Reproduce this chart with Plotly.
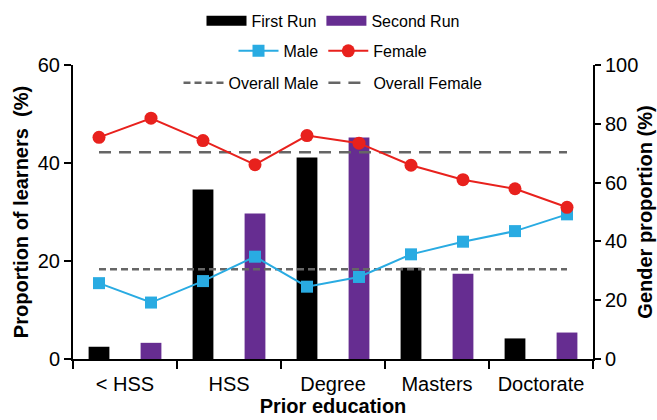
import plotly.graph_objects as go

categories = ["< HSS", "HSS", "Degree", "Masters", "Doctorate"]
first_run = [2.5, 34.6, 41.1, 18.6, 4.2]
second_run = [3.3, 29.7, 45.2, 17.4, 5.4]
male = [25.8, 19.2, 26.5, 34.8, 24.6, 27.9, 35.6, 39.9, 43.5, 49.2]
female = [75.4, 81.9, 74.3, 66.1, 76.0, 73.4, 65.9, 61.0, 57.9, 51.6]
overall_male = 30.5
overall_female = 70.3

n = len(categories)
cat_pos = list(range(n))
first_x = [i - 0.25 for i in cat_pos]
second_x = [i + 0.25 for i in cat_pos]
line_x = []
for i in cat_pos:
    line_x += [i - 0.25, i + 0.25]
span = [line_x[0], line_x[-1]]

FONT = "Liberation Sans, Arial, Helvetica, sans-serif"
BLACK = "#000000"
PURPLE = "#662d91"
BLUE = "#29abe2"
RED = "#e8211d"
GRAY = "#666666"

fig = go.Figure()
# bars (legend shown via wide line swatches below)
fig.add_trace(go.Bar(x=first_x, y=first_run, width=0.2, name="First Run", showlegend=False,
                     marker=dict(color=BLACK, line=dict(width=0))))
fig.add_trace(go.Bar(x=second_x, y=second_run, width=0.2, name="Second Run", showlegend=False,
                     marker=dict(color=PURPLE, line=dict(width=0))))
fig.add_trace(go.Scatter(x=[None], y=[None], mode="lines", name="First Run",
                         line=dict(color=BLACK, width=10), legend="legend"))
fig.add_trace(go.Scatter(x=[None], y=[None], mode="lines", name="Second Run",
                         line=dict(color=PURPLE, width=10), legend="legend"))
fig.add_trace(go.Scatter(x=span, y=[overall_male] * 2, mode="lines", name="Overall Male",
                         line=dict(color=GRAY, width=2.5, dash="7px,4px"), yaxis="y2", legend="legend3"))
fig.add_trace(go.Scatter(x=span, y=[overall_female] * 2, mode="lines", name="Overall Female",
                         line=dict(color=GRAY, width=2.5, dash="12px,8px"), yaxis="y2", legend="legend3"))
fig.add_trace(go.Scatter(x=line_x, y=male, mode="lines+markers", name="Male",
                         line=dict(color=BLUE, width=2),
                         marker=dict(symbol="square", size=12, color=BLUE),
                         yaxis="y2", legend="legend2"))
fig.add_trace(go.Scatter(x=line_x, y=female, mode="lines+markers", name="Female",
                         line=dict(color=RED, width=2),
                         marker=dict(symbol="circle", size=13, color=RED),
                         yaxis="y2", legend="legend2"))

legend_common = dict(orientation="h", xanchor="center", x=0.5, yanchor="middle",
                     font=dict(family=FONT, size=16, color="black"),
                     bgcolor="rgba(0,0,0,0)", traceorder="normal", itemwidth=40)

fig.update_layout(
    width=657, height=420,
    margin=dict(l=73, r=64, t=65, b=61, autoexpand=False),
    paper_bgcolor="white", plot_bgcolor="white",
    font=dict(family=FONT, color="black"),
    barmode="overlay",
    showlegend=True,
    legend=dict(y=1.15, **legend_common),
    legend2=dict(y=1.048, **legend_common),
    legend3=dict(y=0.939, **legend_common),
    xaxis=dict(
        range=[-0.5, 4.5],
        tickmode="array", tickvals=cat_pos, ticktext=categories,
        ticks="outside", ticklen=6, tickcolor="rgba(0,0,0,0)",
        minor=dict(tickmode="array", tickvals=[i - 0.5 for i in range(n + 1)],
                   ticks="outside", ticklen=8, tickwidth=2, tickcolor="black"),
        showline=True, linewidth=2, linecolor="black", showgrid=False, zeroline=False,
        tickfont=dict(size=20),
        title=dict(text="<b>Prior education</b>", font=dict(size=20), standoff=3),
    ),
    yaxis=dict(
        range=[0, 60], tickvals=[0, 20, 40, 60],
        ticks="outside", ticklen=7, tickwidth=2, tickcolor="black",
        showline=True, linewidth=2, linecolor="black", showgrid=False, zeroline=False,
        tickfont=dict(size=20),
        title=dict(text="<b>Proportion of learners  (%)</b>", font=dict(size=20), standoff=4),
    ),
    yaxis2=dict(
        range=[0, 100], tickvals=[0, 20, 40, 60, 80, 100], overlaying="y", side="right",
        ticks="outside", ticklen=6, tickwidth=2, tickcolor="black",
        showline=True, linewidth=2, linecolor="black", showgrid=False, zeroline=False,
        tickfont=dict(size=20),
        title=dict(text="<b>Gender proportion (%)</b>", font=dict(size=20), standoff=1),
    ),
)

fig.write_html("out.html", config={"displayModeBar": False},
               post_script="document.body.style.margin='0px';")
